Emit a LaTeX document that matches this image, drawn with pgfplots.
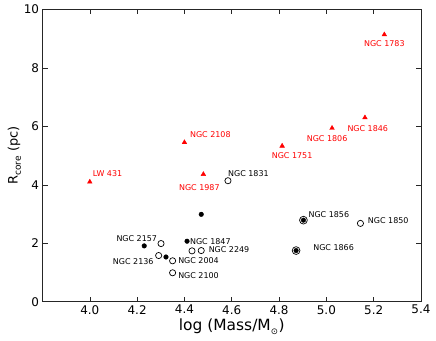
\documentclass[border=0pt]{standalone}
\usepackage{fontspec}
\setmainfont{DejaVu Sans}
\usepackage{pgfplots}
\pgfplotsset{compat=1.18}

\newcommand{\lbl}{\fontsize{8}{9.6}\selectfont}

\begin{document}
\begin{tikzpicture}
\path[use as bounding box] (-42.5bp,-39.3bp) rectangle (393.5bp,301.7bp);
\begin{axis}[
    at={(0,0)}, anchor=south west,
    scale only axis,
    width=378.5bp, height=292.2bp,
    xmin=3.8, xmax=5.4, ymin=0, ymax=10,
    xtick={4.0,4.2,4.4,4.6,4.8,5.0,5.2,5.4},
    ytick={0,2,4,6,8,10},
    tick align=inside,
    major tick length=5bp,
    axis line style={line width=0.8bp, black!85},
    every tick/.style={black!85, line width=0.6bp},
    /pgf/number format/assume math mode=true,
    xticklabel style={/pgf/number format/.cd, fixed, fixed zerofill, precision=1},
    ticklabel style={font=\fontsize{12}{14}\selectfont},
    xlabel={log (Mass/M\textsubscript{\raisebox{-0.35ex}{\scalebox{0.8}{⊙}}})},
    ylabel={R\textsubscript{\raisebox{-0.3ex}{core}} (pc)},
    xlabel style={font=\fontsize{15.5}{18}\selectfont, at={(axis description cs:0.5,-0.097)}, anchor=base},
    ylabel style={font=\fontsize{13}{15}\selectfont, at={(axis description cs:-0.066,0.5)}, anchor=base},
    clip=false,
]
% red triangles
\addplot[only marks, mark=triangle*, mark size=2.7bp, red] coordinates {
    (4.00,4.10) (4.48,4.36) (4.40,5.45) (5.245,9.14)
    (5.163,6.30) (5.024,5.94) (4.813,5.33)
};
% filled dots
\addplot[only marks, mark=*, mark size=2.3bp, black] coordinates {
    (4.471,2.99) (4.23,1.91) (4.322,1.53) (4.411,2.07)
};
% open circles
\addplot[only marks, mark=o, mark size=3.1bp, black, mark options={line width=0.7bp}] coordinates {
    (4.301,1.99) (4.291,1.58) (4.35,1.40) (4.35,0.99)
    (4.432,1.74) (4.471,1.75) (4.584,4.14) (5.144,2.68)
};
% circles with a dot
\addplot[only marks, mark=o, mark size=3.9bp, black, mark options={line width=0.7bp}] coordinates {
    (4.903,2.79) (4.872,1.75)
};
\addplot[only marks, mark=*, mark size=2.3bp, black] coordinates {
    (4.903,2.79) (4.872,1.75)
};

% labels
\begin{scope}[every node/.style={inner sep=0pt, font=\lbl}]
\node[red, anchor=west] at (axis cs:4.012,4.40) {LW 431};
\node[red] at (axis cs:4.463,3.92) {NGC 1987};
\node[red, anchor=west] at (axis cs:4.423,5.72) {NGC 2108};
\node[red] at (axis cs:5.245,8.85) {NGC 1783};
\node[red] at (axis cs:5.175,5.94) {NGC 1846};
\node[red] at (axis cs:5.003,5.58) {NGC 1806};
\node[red] at (axis cs:4.855,5.01) {NGC 1751};
\node[anchor=west] at (axis cs:4.584,4.37) {NGC 1831};
\node[anchor=west] at (axis cs:4.924,2.97) {NGC 1856};
\node[anchor=west] at (axis cs:5.175,2.76) {NGC 1850};
\node[anchor=west] at (axis cs:4.944,1.86) {NGC 1866};
\node[anchor=west] at (axis cs:4.502,1.78) {NGC 2249};
\node[anchor=west] at (axis cs:4.423,2.04) {NGC 1847};
\node[anchor=east] at (axis cs:4.285,2.17) {NGC 2157};
\node[anchor=east] at (axis cs:4.27,1.36) {NGC 2136};
\node[anchor=west] at (axis cs:4.373,1.39) {NGC 2004};
\node[anchor=west] at (axis cs:4.373,0.90) {NGC 2100};
\end{scope}
\end{axis}
\end{tikzpicture}
\end{document}
